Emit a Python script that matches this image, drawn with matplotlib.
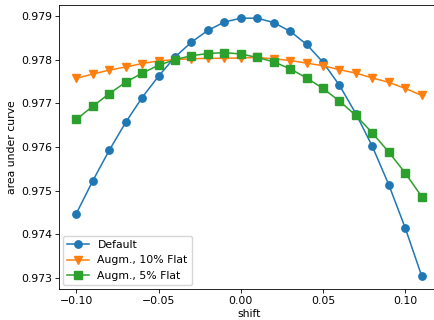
import matplotlib

matplotlib.use("Agg")
import matplotlib.pyplot as plt  # noqa: E402

shift = [-0.10, -0.09, -0.08, -0.07, -0.06, -0.05, -0.04, -0.03, -0.02, -0.01, 0.00,
         0.01, 0.02, 0.03, 0.04, 0.05, 0.06, 0.07, 0.08, 0.09, 0.10, 0.11]

auc_default = [0.97447, 0.97522, 0.97592, 0.97656, 0.97713, 0.97762, 0.97806, 0.97840,
               0.97867, 0.97886, 0.97895, 0.97895, 0.97885, 0.97865, 0.97835, 0.97794,
               0.97741, 0.97676, 0.97601, 0.97513, 0.97414, 0.97304]

auc_flat10 = [0.97757, 0.97767, 0.97776, 0.97783, 0.97791, 0.97797, 0.97800, 0.97802,
              0.97803, 0.97803, 0.97804, 0.97805, 0.97802, 0.97798, 0.97792, 0.97786,
              0.97777, 0.97769, 0.97758, 0.97748, 0.97734, 0.97718]

auc_flat5 = [0.97663, 0.97693, 0.97722, 0.97748, 0.97769, 0.97787, 0.97800, 0.97809,
             0.97814, 0.97816, 0.97813, 0.97805, 0.97795, 0.97779, 0.97758, 0.97734,
             0.97705, 0.97672, 0.97632, 0.97588, 0.97540, 0.97486]

labels = ["Default", "Augm., 10% Flat", "Augm., 5% Flat"]

FS = 7.8
plt.rcParams["font.size"] = FS

fig = plt.figure(figsize=(4.35, 3.2), dpi=100)
ax = fig.add_axes([0.1356, 0.0969, 0.8736, 0.8866])

style = dict(linewidth=1.1, markersize=5.3)
ax.plot(shift, auc_default, marker="o", color="#1f77b4", label=labels[0], **style)
ax.plot(shift, auc_flat10, marker="v", color="#ff7f0e", label=labels[1], **style)
ax.plot(shift, auc_flat5, marker="s", color="#2ca02c", label=labels[2], **style)

ax.set_xticks([-0.10, -0.05, 0.00, 0.05, 0.10])
ax.set_yticks([0.973, 0.974, 0.975, 0.976, 0.977, 0.978, 0.979])
ax.tick_params(labelsize=FS, length=2.6, width=0.6, pad=2.5)
for sp in ax.spines.values():
    sp.set_linewidth(0.6)
ax.set_xlabel("shift", fontsize=FS, labelpad=2)
ax.set_ylabel("area under curve", fontsize=FS, labelpad=3)
ax.legend(loc="lower left", fontsize=FS, borderaxespad=0.35)

fig.savefig("out.png", dpi=100)
